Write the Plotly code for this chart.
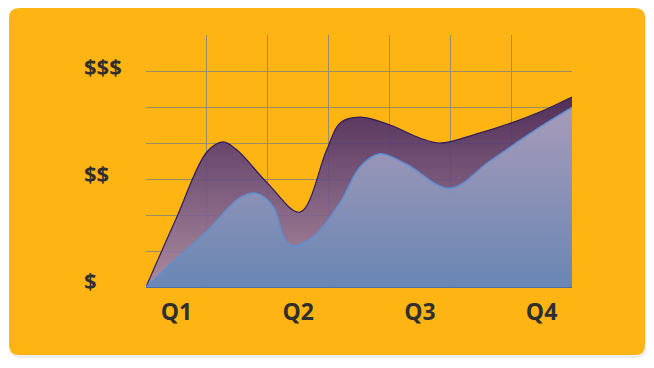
import plotly.graph_objects as go

# ---- data ----
quarters = ["Q1", "Q2", "Q3", "Q4"]
quarter_pos = [0.5, 2.5, 4.5, 6.5]
y_labels = ["$", "$$", "$$$"]
y_label_pos = [0.19, 3.17, 6.14]

top_x = [0, 0.5, 1.0, 1.265, 1.49, 2.0, 2.53, 2.97, 3.19, 3.52, 4.01, 4.5, 4.83, 5.49, 6.01, 6.47, 7.0]
top_y = [0, 1.92, 3.75, 4.03, 3.81, 2.88, 2.08, 3.81, 4.56, 4.72, 4.5, 4.14, 4.0, 4.28, 4.56, 4.86, 5.28]

bot_x = [0, 0.5, 1.0, 1.545, 1.82, 2.09, 2.26, 2.39, 2.75, 3.19, 3.52, 3.84, 4.28, 4.99, 5.65, 6.47, 7.0]
bot_y = [0, 0.78, 1.55, 2.48, 2.60, 2.23, 1.40, 1.14, 1.40, 2.35, 3.34, 3.70, 3.41, 2.74, 3.50, 4.44, 4.99]

ORANGE = "#FEB514"
TEXT = "#2f2f2f"
GRID = "#9a8c66"

# page has an 8px body margin; figure coordinates are page - 8
W, H = 646, 360
L, R, T, B = 138, 564, 27, 279


def px(x):
    return (x - L) / (R - L)


def py(y):
    return (B - y) / (B - T)


def rounded_rect(x0, y0, x1, y1, r):
    pts = [
        f"M {px(x0 + r)} {py(y0)}",
        f"L {px(x1 - r)} {py(y0)}",
        f"Q {px(x1)} {py(y0)} {px(x1)} {py(y0 + r)}",
        f"L {px(x1)} {py(y1 - r)}",
        f"Q {px(x1)} {py(y1)} {px(x1 - r)} {py(y1)}",
        f"L {px(x0 + r)} {py(y1)}",
        f"Q {px(x0)} {py(y1)} {px(x0)} {py(y1 - r)}",
        f"L {px(x0)} {py(y0 + r)}",
        f"Q {px(x0)} {py(y0)} {px(x0 + r)} {py(y0)}",
        "Z",
    ]
    return " ".join(pts)


fig = go.Figure()

fig.add_trace(go.Scatter(
    x=top_x, y=top_y, mode="lines",
    line=dict(shape="spline", smoothing=1.0, color="#2e1b5e", width=1.2),
    fill="tozeroy",
    fillgradient=dict(type="vertical",
                      colorscale=[[0, "rgba(162,134,172,0.9)"],
                                  [0.5, "rgba(112,84,138,0.9)"],
                                  [1, "rgba(62,32,96,0.9)"]]),
    hoverinfo="skip", showlegend=False,
))

fig.add_trace(go.Scatter(
    x=bot_x, y=bot_y, mode="lines",
    line=dict(shape="spline", smoothing=1.0, color="#5d90d2", width=1.5),
    fill="tozeroy",
    fillgradient=dict(type="vertical",
                      colorscale=[[0, "rgba(100,134,182,0.93)"],
                                  [0.5, "rgba(138,148,186,0.93)"],
                                  [1, "rgba(172,162,192,0.93)"]]),
    hoverinfo="skip", showlegend=False,
))

shapes = [
    dict(type="path", xref="paper", yref="paper",
         path=rounded_rect(2, 1, 639, 350, 11),
         fillcolor="rgba(0,0,0,0.07)", line=dict(width=0), layer="below"),
    dict(type="path", xref="paper", yref="paper",
         path=rounded_rect(1, 0, 637, 347, 10),
         fillcolor=ORANGE, line=dict(width=0), layer="below"),
]

annotations = [
    dict(x=px(74), xref="paper", y=v, yref="y", text=t, showarrow=False,
         xanchor="left", yanchor="middle",
         font=dict(family="Open Sans", size=22, color=TEXT, weight="bold"))
    for t, v in zip(y_labels, y_label_pos)
]

fig.update_layout(
    width=W, height=H,
    margin=dict(l=L, r=W - R, t=T, b=H - B),
    paper_bgcolor="white",
    plot_bgcolor="rgba(0,0,0,0)",
    shapes=shapes,
    annotations=annotations,
    xaxis=dict(range=[0, 7], tickvals=quarter_pos, ticktext=quarters,
               showgrid=False, zeroline=False, ticks="",
               ticklabelstandoff=4,
               showline=True, linecolor="#4e6fa4", linewidth=1,
               tickfont=dict(family="Open Sans", size=23, color=TEXT, weight="bold"),
               minor=dict(tickvals=list(range(8)), showgrid=True,
                          gridcolor=GRID, gridwidth=1),
               fixedrange=True),
    yaxis=dict(range=[0, 7], tickvals=list(range(8)), showticklabels=False,
               showgrid=True, gridcolor=GRID, gridwidth=1, zeroline=False,
               ticks="", fixedrange=True),
)

fig.write_html("out.html")
